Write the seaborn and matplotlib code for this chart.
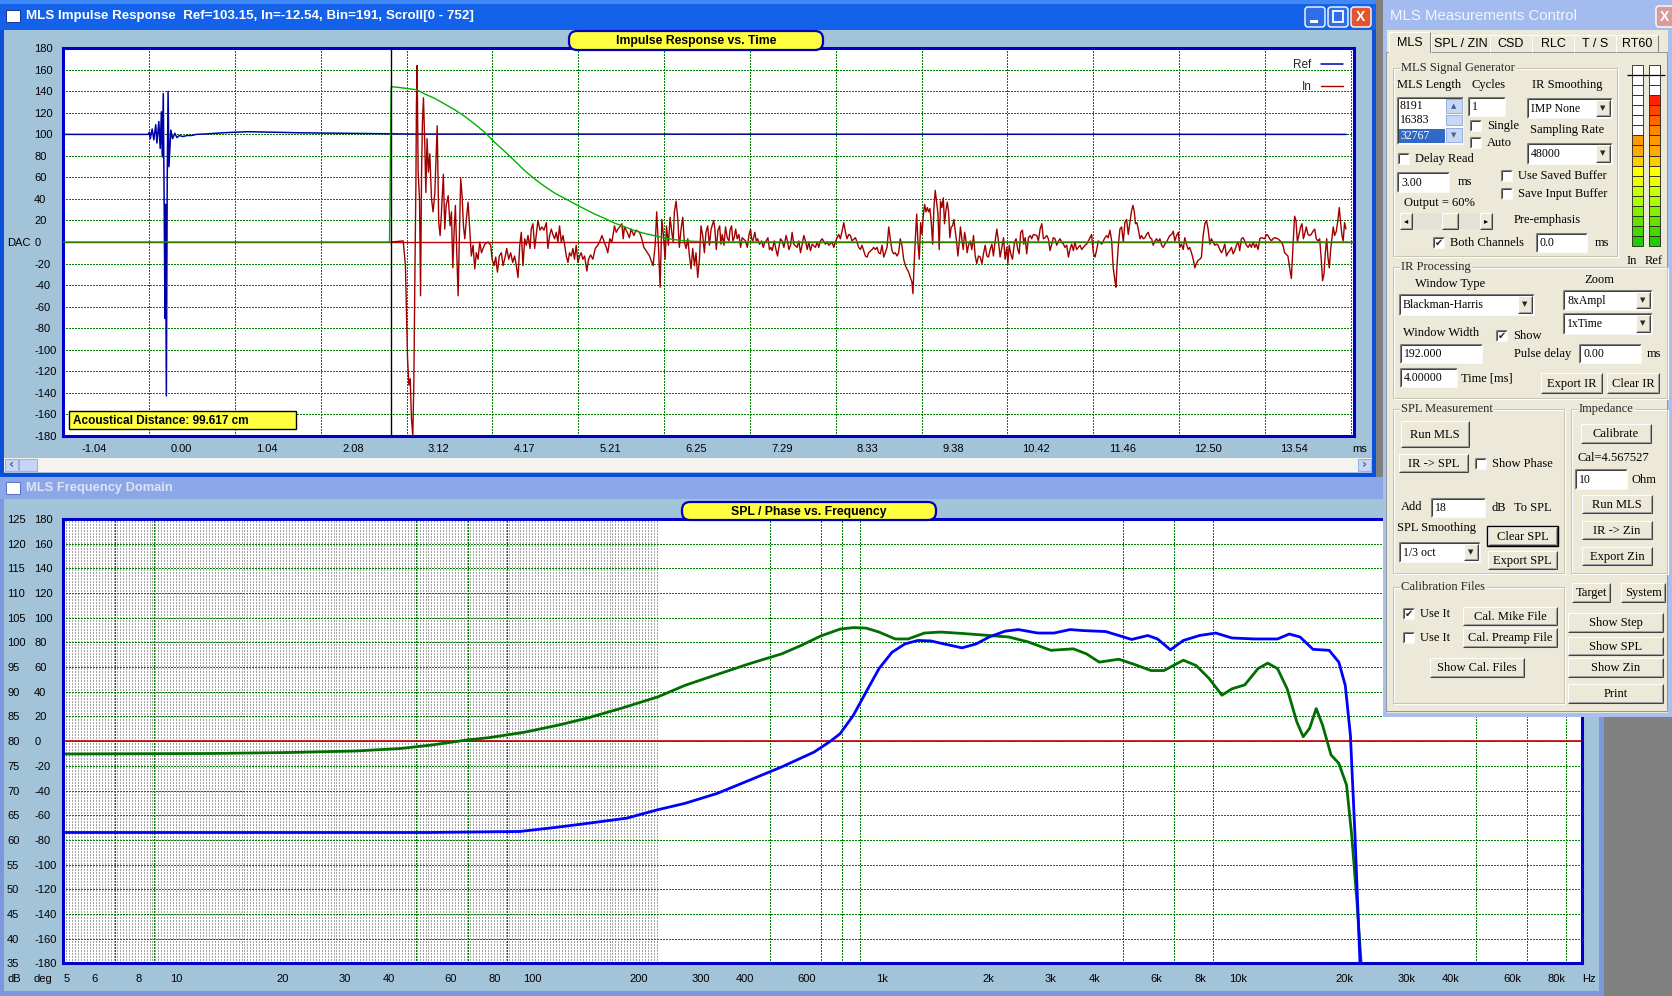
import numpy as np
import pandas as pd
import matplotlib
matplotlib.use("Agg")
import matplotlib.pyplot as plt
from matplotlib.patches import Rectangle, FancyBboxPatch
import seaborn as sns

# ---------------- impulse response: (sample index @ 48 kHz, DAC units) ----------------
SAMPLE_RATE_KHZ = 48.0
ZERO_SAMPLE = 75          # bin labelled 0.00 ms
CURSOR_SAMPLE = 191       # Bin=191, window start
SCROLL_END = 752

ref_trace = [(0, 100), (49.6, 100), (50.1, 102), (50.6, 96), (51.7, 105), (52.7, 95),
             (53.8, 109), (54.5, 92), (55.6, 112), (56.4, 87), (57.1, 121), (57.6, 79),
             (58.2, 138), (58.7, 40), (59.2, -71), (59.5, 35), (60.0, -143), (60.5, 60),
             (61.0, 140), (61.5, 70), (62.6, 104), (63.6, 96), (64.9, 101), (66.2, 97),
             (67.5, 99), (69.6, 98), (72.2, 99), (74.8, 99), (77.4, 100), (83.9, 100.5),
             (93.0, 101.5), (107.3, 102.5), (137.1, 101.5), (203.3, 100.3), (747.5, 100)]

window_trace = [(0, 0), (190.0, 0), (190.3, 37), (190.7, 109), (191.0, 144.3), (195.1, 143.7),
                (199.9, 142.7), (205.7, 141.5), (210.6, 137.5), (216.4, 133.4), (222.2, 128.2),
                (228.0, 122.9), (233.9, 116.7), (239.7, 109.6), (245.5, 101.9), (251.3, 92.6),
                (257.1, 84.2), (262.9, 75.5), (268.8, 66.3), (274.6, 58.5), (280.4, 51.7),
                (286.2, 45.5), (292.0, 40.6), (297.8, 35.6), (303.7, 30.7), (309.5, 26.0),
                (315.3, 22.0), (321.1, 17.6), (326.9, 14.2), (332.8, 10.5), (338.6, 8.0),
                (344.4, 5.9), (350.2, 3.7), (356.0, 2.2), (361.8, 1.2), (367.7, 0.6),
                (375.4, 0.3), (383.0, 0), (752, 0)]

in_onset = [(191.0, 0), (198.0, 1), (199.3, -22), (199.9, -65), (200.5, -107), (201.3, -133),
            (202.1, -127), (202.8, -164), (203.6, -180), (204.2, -130), (204.8, -31), (205.4, 55),
            (205.7, 127), (206.1, 164), (206.7, 65), (207.5, 40), (208.1, -50), (208.7, 65),
            (209.2, 111), (209.8, 134), (210.6, 89), (211.2, 46), (211.9, 96), (212.7, 65),
            (213.5, 82), (214.5, 40), (215.4, 28), (216.4, 45), (217.2, 82), (217.8, 108),
            (218.7, 18), (219.5, 6), (220.3, 28), (221.4, 63), (222.2, 12), (223.0, 34),
            (224.2, 43), (225.3, 15), (226.1, 28), (226.9, -24), (227.7, 12), (228.4, 34),
            (229.2, -10), (230.0, -50), (230.8, 11), (231.5, 59), (232.3, 43), (233.1, 15),
            (233.9, 3), (234.8, 21), (235.8, 37), (236.8, 11), (237.7, -13), (238.7, -3),
            (239.7, -25), (240.6, -10), (241.6, -16), (242.6, 0), (243.6, -10), (245.5, -2),
            (247.4, 0), (249.0, -3), (249.8, -16), (250.9, -22), (251.9, -14), (252.9, -28),
            (254.0, -13), (255.2, -10), (256.2, -22), (257.5, -13), (258.3, -6), (259.5, -16),
            (260.6, -10), (261.8, -19), (262.9, -13), (263.9, -22), (264.9, -33), (265.9, -3),
            (266.8, 9), (267.8, -22), (268.8, 3), (269.7, -3), (270.7, 6), (271.9, -6),
            (272.6, 12), (273.6, 17), (274.6, -6), (275.5, 6), (276.5, 20), (277.7, 11),
            (278.8, 14), (280.0, 11), (281.4, 18), (282.3, -6), (283.3, 6), (284.3, 12),
            (285.2, 7), (286.2, 3), (287.2, 9), (288.1, 0), (289.1, 15), (290.1, 0),
            (291.1, 6), (292.0, -2), (293.0, -13), (294.0, -19), (294.9, -10), (295.9, -13),
            (296.9, -6), (297.8, -16), (298.8, -3), (299.8, -19), (300.8, -13), (301.7, -10),
            (302.7, -16), (303.7, -13), (305.0, -27), (306.0, -16), (307.2, -12), (308.5, -16),
            (309.9, -6), (311.4, -3), (312.4, 0), (313.8, 6), (314.9, 1), (316.3, -5),
            (317.2, -10), (318.4, 3), (319.6, 0), (321.1, 15), (322.1, 9), (323.1, 12),
            (324.2, 14), (325.4, 17), (326.2, 3), (326.9, 14), (328.5, 9), (329.8, 4),
            (330.8, 12), (332.4, 6), (333.7, 11), (335.7, 9), (337.0, 3), (338.2, -5),
            (339.5, -8), (341.5, -13), (342.4, -17), (343.6, -22), (344.8, -3), (345.7, 28),
            (346.7, -3), (347.7, -42), (348.7, 21), (349.8, 3), (350.6, -16), (351.4, 15),
            (352.5, -3), (353.5, 23), (354.5, 9), (355.3, 0), (356.0, 28), (357.0, 38),
            (358.0, 21), (358.9, -5), (359.9, 12), (360.9, 23), (361.8, 0), (362.8, -6),
            (363.8, 3), (364.8, -13), (365.7, -25), (366.7, -6), (367.7, -22), (368.6, -10),
            (369.6, -33), (370.6, -16), (371.5, 15), (372.5, 6), (373.5, -10), (374.4, 9),
            (375.4, 15), (376.4, -3), (377.4, 12), (378.9, 20)]

in_middle = [(379.6, 12), (380.4, -7), (381.4, 11), (382.4, 15), (383.1, -2), (383.9, 7),
             (384.9, -3), (385.8, 14), (386.8, 4), (387.8, 1), (388.4, 11), (389.3, 15),
             (390.1, 1), (390.9, 4), (391.7, 12), (392.6, 3), (393.6, 7), (394.6, -5),
             (395.5, 4), (397.5, 1), (398.5, -5), (399.4, 6), (400.4, 12), (401.0, 3),
             (401.7, 1), (402.9, 9), (403.7, 1), (404.5, 3), (405.6, -2), (406.8, 1),
             (407.8, -5), (408.7, 0), (409.5, 1), (410.5, 4), (411.4, -7), (412.2, -5),
             (413.0, -8), (414.2, 1), (414.9, -5), (416.1, -13), (416.9, -5), (417.8, 3),
             (418.8, 1), (419.8, -5), (421.1, 6), (421.9, 1), (422.7, -7), (423.7, -3),
             (424.6, 9), (425.6, -2), (427.5, -5), (428.5, 1), (429.5, -10), (430.4, -3),
             (431.4, 6), (432.4, 1), (433.4, -7), (434.3, 0), (435.3, -8), (436.3, -2),
             (438.2, -5), (439.2, 0), (440.1, -5), (441.1, 1), (442.1, 3), (444.0, -2),
             (445.0, 0), (446.0, -3), (447.9, 0), (448.9, -5), (449.8, 0), (450.8, 4),
             (451.8, 7), (452.7, 3), (453.7, 10), (454.7, 18), (455.7, 9), (456.6, 3),
             (457.6, 7), (458.6, 6), (459.5, 1), (461.5, 4), (462.4, 0), (463.4, -5),
             (464.4, -7), (465.3, -3), (466.3, -8), (467.3, -13), (468.3, -14), (469.2, -10),
             (471.2, -7), (472.1, -5), (473.1, -7), (474.1, -5), (475.0, -10), (476.0, -11),
             (477.0, -3), (478.0, -14), (478.9, -10), (479.9, -5), (480.9, 14), (481.8, 3),
             (482.8, -8), (483.8, -11), (484.7, -10), (485.7, -13), (486.7, -10), (487.6, 3),
             (488.6, -3), (489.6, -16), (490.6, -22), (491.5, -25), (492.5, -28), (493.5, -33),
             (494.4, -37), (495.0, -48), (495.8, -17), (496.4, 3), (497.2, 26), (497.9, 0),
             (498.7, -16), (499.5, 18), (500.3, 7), (501.0, 24), (501.8, 35), (502.6, 28),
             (503.4, 32), (504.1, 28), (504.9, 31), (505.7, 18), (506.5, -2), (507.2, 31),
             (508.0, 48), (508.8, 37), (509.6, 26), (510.3, -7), (511.1, 38), (511.9, 32),
             (512.7, 41), (513.4, 17), (514.2, 29), (515.0, 37), (515.8, 28), (516.5, 4),
             (517.3, 14), (518.1, 15), (518.9, 21), (519.6, 11), (520.4, 1), (521.2, -13),
             (522.0, 0), (522.7, 14), (523.5, 3), (524.3, -7), (525.1, 9), (525.8, 3),
             (526.6, -10), (527.4, -3), (528.4, 1), (529.3, -7), (530.3, 6), (531.3, -13),
             (532.2, -20), (533.2, -13), (534.2, -14), (535.2, -20), (536.1, -11), (537.1, -3),
             (538.1, -13), (539.0, -14), (540.0, -7), (541.0, -2), (541.9, -13), (542.9, 1),
             (543.9, 12), (544.8, 1), (545.8, -14), (546.8, -5), (547.8, 4), (548.7, -16),
             (549.7, -5), (550.3, -20), (551.1, -3), (552.0, -11), (553.0, -16), (554.2, 0),
             (555.1, 3), (556.1, -7), (556.9, -11), (557.8, 9), (558.8, 11), (559.6, -2),
             (560.4, 4), (561.3, -11), (562.3, 4), (563.3, 6), (564.2, 3), (565.2, 7),
             (567.2, 6)]

in_late = [(568.1, 1), (569.1, 12), (570.1, 17), (571.0, 3), (572.0, 4), (573.0, 6),
           (573.9, 3), (574.9, -8), (575.9, -2), (576.8, 4), (577.8, 3), (578.8, -3),
           (579.8, 1), (580.7, 3), (581.7, 0), (582.7, -2), (583.6, -5), (584.6, -3),
           (585.6, -14), (586.5, -7), (587.5, -2), (588.5, -8), (589.4, 0), (590.4, -7),
           (591.4, -5), (592.4, -3), (593.3, -7), (594.3, -5), (595.3, -3), (596.2, -2),
           (597.2, 1), (598.2, 4), (599.1, 7), (600.1, -10), (601.1, -14), (602.1, -7),
           (603.0, 1), (604.0, 0), (605.0, -2), (605.9, 1), (606.9, 4), (607.9, 6),
           (608.8, 4), (609.8, 11), (610.8, 1), (611.7, -24), (612.7, -36), (613.3, -42),
           (613.9, -22), (614.7, -3), (615.6, 12), (616.6, 14), (617.6, 0), (618.5, 18),
           (619.5, 21), (620.5, 7), (621.4, 18), (622.4, 29), (623.2, 34), (624.0, 28),
           (624.7, 17), (625.5, 18), (626.3, 12), (627.3, 3), (628.2, 6), (629.2, 3),
           (630.2, 4), (631.1, 7), (632.1, 9), (633.1, 4), (634.1, 3), (635.0, -3),
           (636.0, 1), (637.0, 3), (637.9, 0), (638.9, 3), (639.9, -3), (640.8, -5),
           (641.8, -2), (642.8, 0), (643.7, 3), (644.7, 6), (645.7, 7), (646.7, 10),
           (647.6, 1), (648.6, 6), (649.6, 9), (650.5, -5), (651.5, -2), (652.5, -7),
           (653.4, 4), (654.4, -2), (655.4, -7), (656.3, -5), (657.3, -10), (658.3, -16),
           (659.3, -24), (660.2, -20), (661.2, -17), (662.2, -16), (663.1, -14), (664.1, 6),
           (665.1, 17), (666.0, 20), (667.0, 12), (668.0, -2), (668.9, 3), (670.9, -3),
           (671.9, -2), (672.8, -3), (673.8, -7), (674.8, -10), (675.7, -7), (676.7, -2),
           (677.7, -13), (678.6, -10), (679.6, -8), (680.6, -5), (681.6, -11), (682.5, -8),
           (683.5, -3), (684.5, 0), (685.4, -8), (686.4, 3), (687.4, 4), (688.3, 1),
           (689.3, -3), (690.3, -5), (691.3, -2), (692.2, -5), (693.2, 0), (694.2, -5),
           (695.1, -2), (696.1, -7), (697.1, 3), (698.0, 4), (700.0, 3), (701.0, 7),
           (701.9, 6), (702.9, 3), (703.9, 1), (704.8, 3), (705.8, 4), (707.7, 3),
           (709.7, 0), (710.6, -3), (711.6, -10), (713.5, -13), (714.5, -24), (715.5, -34),
           (716.5, -2), (717.4, 24), (718.2, 20), (719.0, 0), (719.8, 6), (720.9, 14),
           (721.7, 17), (722.5, 3), (723.2, 7), (724.2, 14), (725.2, 7), (726.2, 6),
           (727.1, 7), (728.1, 10), (729.1, 12), (730.0, 3), (731.0, 1), (732.0, 3),
           (732.9, -16), (733.7, -36), (734.5, -30), (735.3, -10), (736.1, 3), (736.8, -14),
           (737.6, -24), (738.4, -7), (739.1, 3), (739.9, 14), (740.7, 6), (741.7, 10),
           (742.6, 20), (743.4, 32), (744.2, 18), (745.0, 6), (745.7, 1), (746.5, 18),
           (747.3, 12)]

ir_tick_labels = ["-1.04", "0.00", "1.04", "2.08", "3.12", "4.17", "5.21", "6.25",
                  "7.29", "8.33", "9.38", "10.42", "11.46", "12.50", "13.54"]
ir_y_ticks = list(range(-180, 181, 20))

# ---------------- frequency domain (Hz, dB) ----------------
spl_freq = [5, 54, 98, 123, 147, 197, 241, 288, 355, 439, 542, 669, 744, 792, 863, 939,
            1021, 1111, 1209, 1316, 1432, 1558, 1754, 1925, 2094, 2329, 2534, 2875, 3196,
            3550, 3862, 4480, 4875, 5302, 5891, 6278, 6830, 7430, 8254, 9175, 10197, 11839,
            13727, 14816, 15906, 17302, 19223, 20478, 21357, 22085, 22751, 23540]
spl_db = [61.5, 61.5, 61.7, 62.5, 63.2, 64.4, 66.1, 67.4, 69.4, 72.1, 74.8, 77.8, 80.0,
          81.5, 85.2, 90.0, 94.7, 98.0, 99.7, 100.4, 100.3, 99.7, 98.9, 99.7, 101.1, 102.3,
          102.6, 101.9, 101.9, 102.6, 102.4, 102.2, 101.4, 100.6, 101.4, 100.7, 98.5, 100.4,
          101.4, 101.9, 100.9, 100.7, 100.7, 101.7, 101.1, 98.6, 98.4, 96.0, 91.3, 81.2,
          61.0, 34.0]

ref_spl_freq = [5, 13, 21.7, 33.5, 45, 55, 69, 80, 101, 127, 151, 191, 242, 288, 355, 439,
                542, 615, 698, 792, 863, 939, 1021, 1135, 1235, 1373, 1526, 1769, 2094, 2378,
                2700, 3130, 3625, 3945, 4295, 4875, 5418, 6018, 6545, 7430, 8081, 8786, 9553,
                10197, 11089, 12089, 12875, 13727, 14620, 15570, 16234, 16925, 17670, 18425,
                19464, 20478, 21536, 22267, 23040, 23740]
ref_spl_db = [77.4, 77.5, 77.7, 78.0, 78.5, 79.2, 80.2, 80.7, 81.8, 83.3, 84.6, 86.7, 89.0,
              91.3, 93.5, 95.7, 97.7, 99.4, 101.3, 102.7, 103.0, 102.9, 102.1, 100.7, 100.7,
              101.9, 102.1, 101.8, 101.4, 101.1, 100.1, 98.4, 98.7, 97.7, 96.0, 96.6, 95.5,
              94.3, 94.3, 96.4, 95.3, 92.7, 89.3, 90.6, 91.4, 94.7, 95.8, 94.7, 90.6, 83.9,
              80.9, 82.6, 86.6, 83.2, 77.2, 75.5, 71.1, 61.0, 47.6, 34.0]

freq_ticks = [5, 6, 8, 10, 20, 30, 40, 60, 80, 100, 200, 300, 400, 600, 1000, 2000, 3000,
              4000, 6000, 8000, 10000, 20000, 30000, 40000, 60000, 80000]
freq_tick_labels = ["5", "6", "8", "10", "20", "30", "40", "60", "80", "100", "200", "300",
                    "400", "600", "1k", "2k", "3k", "4k", "6k", "8k", "10k", "20k", "30k",
                    "40k", "60k", "80k"]
db_ticks = list(range(35, 126, 5))
deg_ticks = list(range(-180, 181, 20))

# ---------------- control panel state ----------------
meter_in_level = 11
meter_ref_level = 15
meter_colors = ["#22CC00", "#44D800", "#66E000", "#88EE00", "#AAFF00", "#CCFF00",
                "#EEFF00", "#FFFF00", "#FFCC00", "#FFAA00", "#FF9900", "#FF8800",
                "#FF6600", "#FF4400", "#FF2200", "#FF0000", "#FF0000", "#FF0000"]

# ---------------------------------------------------------------------------
sns.set_theme(style="white")
plt.rcParams["font.family"] = ["Liberation Sans", "DejaVu Sans"]
plt.rcParams["axes.unicode_minus"] = False

W, H = 1672, 996
FACE = "#ECE9D8"
CLIENT = "#A3C3D9"
SERIF = "Liberation Serif"
GRID = dict(color="#008000", linestyle=(0, (1.4, 1.4)), linewidth=0.8, antialiased=False)


def frac(x0, y0, x1, y1):
    return [x0 / W, 1 - y1 / H, (x1 - x0) / W, (y1 - y0) / H]


def to_ms(samples):
    return (np.asarray(samples, dtype=float) - ZERO_SAMPLE) / SAMPLE_RATE_KHZ


def rect(ax, x0, y0, x1, y1, fc, ec="none", lw=0.75, z=2):
    ax.add_patch(Rectangle((x0, y0), x1 - x0, y1 - y0, facecolor=fc, edgecolor=ec,
                           linewidth=lw, zorder=z))


def seg(ax, xs, ys, c, lw=0.75, z=4):
    ax.plot(xs, ys, color=c, lw=lw, zorder=z, solid_capstyle="butt")


def label(ax, x, y, s, size=9, ha="left", color="black", family=SERIF, weight="normal", z=7):
    ax.text(x, y, s, ha=ha, va="center", fontsize=size, color=color, family=family,
            weight=weight, zorder=z)


def raised(ax, x0, y0, x1, y1, z=4):
    rect(ax, x0, y0, x1, y1, FACE, z=z)
    seg(ax, [x0, x1], [y0, y0], "white", z=z + 0.1)
    seg(ax, [x0, x0], [y0, y1], "white", z=z + 0.1)
    seg(ax, [x0, x1], [y1, y1], "#404040", z=z + 0.1)
    seg(ax, [x1, x1], [y0, y1], "#404040", z=z + 0.1)
    seg(ax, [x0 + 1, x1 - 1], [y1 - 1, y1 - 1], "#A0A0A0", z=z + 0.1)
    seg(ax, [x1 - 1, x1 - 1], [y0 + 1, y1 - 1], "#A0A0A0", z=z + 0.1)


def button(ax, x0, y0, x1, y1, text, default=False):
    raised(ax, x0, y0, x1, y1)
    if default:
        rect(ax, x0 - 1, y0 - 1, x1 + 1, y1 + 1, "none", "black", lw=1.0, z=5)
    label(ax, (x0 + x1) / 2, (y0 + y1) / 2 + 0.5, text, ha="center")


def sunken(ax, x0, y0, x1, y1, fc="white", z=4):
    rect(ax, x0, y0, x1, y1, fc, z=z)
    seg(ax, [x0, x1], [y0, y0], "#808080", z=z + 0.1)
    seg(ax, [x0, x0], [y0, y1], "#808080", z=z + 0.1)
    seg(ax, [x0 + 1, x1 - 1], [y0 + 1, y0 + 1], "#404040", z=z + 0.1)
    seg(ax, [x0 + 1, x0 + 1], [y0 + 1, y1 - 1], "#404040", z=z + 0.1)
    seg(ax, [x0, x1], [y1, y1], "#F8F8F8", z=z + 0.1)
    seg(ax, [x1, x1], [y0, y1], "#F8F8F8", z=z + 0.1)


def edit(ax, x0, y0, x1, y1, text):
    sunken(ax, x0, y0, x1, y1)
    label(ax, x0 + 4, (y0 + y1) / 2 + 0.5, text, size=8.5)


def combo(ax, x0, y0, x1, y1, text):
    edit(ax, x0, y0, x1, y1, text)
    raised(ax, x1 - 16, y0 + 2, x1 - 2, y1 - 2, z=5)
    ax.text(x1 - 9, (y0 + y1) / 2, "\u25BC", fontsize=5, ha="center", va="center",
            family="DejaVu Sans", zorder=7)


def checkbox(ax, x, y, text, checked=False):
    sunken(ax, x, y, x + 11, y + 11)
    if checked:
        ax.text(x + 5.5, y + 6, "\u2714", fontsize=7, ha="center", va="center",
                family="DejaVu Sans", zorder=7)
    label(ax, x + 17, y + 5.5, text)


def group(ax, x0, y0, x1, y1, text):
    rect(ax, x0 + 1, y0 + 1, x1 + 1, y1 + 1, "none", "white", z=3)
    rect(ax, x0, y0, x1, y1, "none", "#C8C5B2", z=3.1)
    ax.text(x0 + 8, y0, text, ha="left", va="center", fontsize=9, family=SERIF, zorder=7,
            bbox=dict(boxstyle="square,pad=0.12", fc=FACE, ec="none"))


fig = plt.figure(figsize=(W / 100, H / 100), dpi=100, facecolor="#808080")

bg = fig.add_axes([0, 0, 1, 1], zorder=0)
bg.set_xlim(0, W)
bg.set_ylim(H, 0)
bg.axis("off")

ax_ir = fig.add_axes(frac(63.4, 48.3, 1354, 435.7), zorder=1)
ax_fr = fig.add_axes(frac(63.4, 519, 1582, 963.3), zorder=1)

fg = fig.add_axes([0, 0, 1, 1], zorder=3)
fg.set_xlim(0, W)
fg.set_ylim(H, 0)
fg.axis("off")

# ---- window chrome behind the plots ----
rect(bg, 0, 0, 1376, 477, "#0A4FD9", z=1)
rect(bg, 0, 0, 1376, 30, "#1462EA", z=1.1)
rect(bg, 0, 0, 1376, 4, "#3F88F6", z=1.2)
rect(bg, 4, 30, 1372, 473, CLIENT, z=1.3)
rect(bg, 6, 10, 20, 22, "white", "#1A3A9A", z=2)
label(bg, 26, 16, "MLS Impulse Response  Ref=103.15, In=-12.54, Bin=191, Scroll[0 - 752]",
      size=9.6, color="white", family="Liberation Sans", weight="bold")
for x0, fc in [(1305, "#2E6EEB"), (1328, "#2E6EEB"), (1351, "#E2552E")]:
    bg.add_patch(FancyBboxPatch((x0, 7), 20, 20, boxstyle="round,pad=0,rounding_size=3",
                                fc=fc, ec="white", lw=1.0, zorder=3))
rect(bg, 1310, 20, 1318, 23, "white", z=4)
rect(bg, 1333, 11, 1343, 22, "none", "white", lw=1.3, z=4)
label(bg, 1361, 17, "X", size=10, ha="center", color="white", family="Liberation Sans",
      weight="bold")
# horizontal scroll bar
rect(bg, 4, 458, 1372, 472, "#F4F3EE", z=2)
for x0, x1, glyph in [(5, 18, "\u2039"), (1358, 1371, "\u203A")]:
    rect(bg, x0, 459, x1, 471, "#C6D5F7", "#9AB0E0", z=3)
    label(bg, (x0 + x1) / 2, 464.5, glyph, size=9, ha="center", color="#4D6185",
          family="DejaVu Sans", weight="bold")
rect(bg, 19, 459, 37, 471, "#C6D5F7", "#9AB0E0", z=3)

rect(bg, 0, 477, 1604, 996, "#7C97DE", z=1)
rect(bg, 0, 477, 1604, 499, "#8CA7E7", z=1.1)
rect(bg, 4, 499, 1599, 991, CLIENT, z=1.3)
rect(bg, 6, 482, 20, 494, "white", "#5A78C8", z=2)
label(bg, 26, 488, "MLS Frequency Domain", size=9.3, color="#DCE5F8",
      family="Liberation Sans", weight="bold")

# ---- impulse response plot ----
ref_df = pd.DataFrame(ref_trace, columns=["sample", "dac"])
win_df = pd.DataFrame(window_trace, columns=["sample", "dac"])
in_df = pd.DataFrame(in_onset + in_middle + in_late, columns=["sample", "dac"])
for df in (ref_df, win_df, in_df):
    df["ms"] = to_ms(df["sample"])

ax_ir.set_facecolor("white")
ax_ir.axhline(0, color="#C00000", lw=1.0, zorder=1.5)
sns.lineplot(data=ref_df, x="ms", y="dac", ax=ax_ir, color="#0000A8", lw=1.1,
             estimator=None, sort=False, label="Ref", zorder=2)
sns.lineplot(data=in_df, x="ms", y="dac", ax=ax_ir, color="#A00000", lw=1.0,
             estimator=None, sort=False, label="In", zorder=3)
sns.lineplot(data=win_df, x="ms", y="dac", ax=ax_ir, color="#00B000", lw=1.0,
             estimator=None, sort=False, zorder=4)
ax_ir.axvline(to_ms(CURSOR_SAMPLE), color="black", lw=1.0, zorder=5)

ax_ir.set_xlim(to_ms(0), to_ms(SCROLL_END))
ax_ir.set_ylim(-180, 180)
ax_ir.set_xticks(to_ms(np.arange(25, SCROLL_END, 25)), minor=True)
ax_ir.set_xticks(to_ms(25 + 50 * np.arange(len(ir_tick_labels))), labels=ir_tick_labels)
ax_ir.set_yticks(ir_y_ticks)
ax_ir.set_axisbelow(True)
ax_ir.grid(which="minor", axis="x", **GRID)
ax_ir.grid(which="major", axis="y", **GRID)
ax_ir.tick_params(which="both", length=0, labelsize=8, colors="black")
ax_ir.tick_params(axis="y", pad=21)
ax_ir.tick_params(axis="x", pad=6)
plt.setp(ax_ir.get_yticklabels(), ha="left")
plt.setp(ax_ir.get_xticklabels(), ha="right")
ax_ir.set_xlabel("")
ax_ir.set_ylabel("")
for sp in ax_ir.spines.values():
    sp.set_color("#0000C8")
    sp.set_linewidth(2.2)
handles, labels = ax_ir.get_legend_handles_labels()
ax_ir.legend(handles, labels, loc="upper right", frameon=False, markerfirst=False,
             fontsize=8.5, handlelength=1.9, handletextpad=0.8, labelspacing=0.85,
             borderaxespad=0.5)

# ---- frequency domain plot ----
ax_fr.set_facecolor("white")
ax_fr.set_xscale("log")
ax_fr.set_xlim(5, 100000)
ax_fr.set_ylim(35, 125)
# fine stipple of bin lines in the low-frequency part (about every 3 px)
ax_fr.vlines(np.geomspace(5.1, 240, 200), 35, 125, colors="#A4A4A4",
             linestyles=[(0, (1.4, 1.4))], linewidth=0.72, antialiased=False, zorder=0.3)
grid_freqs = [m * 10 ** e for e in range(0, 5) for m in range(1, 10) if 5 < m * 10 ** e < 100000]
ax_fr.set_xticks(grid_freqs, minor=True)
ax_fr.set_xticks(freq_ticks, labels=freq_tick_labels)
ax_fr.set_yticks(db_ticks)
ax_fr.set_axisbelow(True)
ax_fr.grid(which="minor", axis="x", **GRID)
ax_fr.grid(which="major", axis="y", **GRID)
ax_fr.axhline(80, color="#C00000", lw=1.2, zorder=1.5)
sns.lineplot(x=ref_spl_freq, y=ref_spl_db, ax=ax_fr, color="#006E00", lw=2.0,
             estimator=None, sort=False, zorder=2)
sns.lineplot(x=spl_freq, y=spl_db, ax=ax_fr, color="#0000FF", lw=2.0,
             estimator=None, sort=False, zorder=3)
ax_fr.tick_params(which="both", length=0, labelsize=8, colors="black")
ax_fr.tick_params(axis="y", pad=40.6)
ax_fr.tick_params(axis="x", pad=8)
plt.setp(ax_fr.get_yticklabels(), ha="left")
plt.setp(ax_fr.get_xticklabels(), ha="left")
for sp in ax_fr.spines.values():
    sp.set_color("#0000C8")
    sp.set_linewidth(2.2)
deg_axis = ax_fr.secondary_yaxis("left", functions=(lambda db: (db - 80) * 4,
                                                    lambda deg: deg / 4 + 80))
deg_axis.set_yticks(deg_ticks)
deg_axis.tick_params(length=0, labelsize=8, pad=21, colors="black")
plt.setp(deg_axis.get_yticklabels(), ha="left")
deg_axis.spines["left"].set_visible(False)

# ---- axis unit captions and chart captions ----
label(fg, 7, 243, "DAC", size=8, family="Liberation Sans")
label(fg, 1360, 449, "ms", size=8, ha="center", family="Liberation Sans")
label(fg, 7, 979, "dB", size=8, family="Liberation Sans")
label(fg, 34, 979, "deg", size=8, family="Liberation Sans")
label(fg, 1589, 979, "Hz", size=8, ha="center", family="Liberation Sans")

for x0, y0, x1, y1, title in [(569, 31, 823, 50, "Impulse Response vs. Time"),
                              (682, 502, 936, 520, "SPL / Phase vs. Frequency")]:
    fg.add_patch(FancyBboxPatch((x0, y0), x1 - x0, y1 - y0,
                                boxstyle="round,pad=0,rounding_size=8",
                                fc="#FFFF40", ec="#0000C0", lw=1.6, zorder=5))
    label(fg, (x0 + x1) / 2, (y0 + y1) / 2 + 0.5, title, size=8.8, ha="center",
          family="Liberation Sans", weight="bold")

rect(fg, 69, 411, 296, 429, "#FFFF40", "black", lw=1.0, z=5)
label(fg, 73, 420.5, "Acoustical Distance: 99.617 cm", size=8.5, family="Liberation Sans",
      weight="bold")

# ---- MLS Measurements Control panel ----
ui = fg
rect(ui, 1383, 0, 1672, 717, "#A9BFEE", z=2)
rect(ui, 1383, 0, 1672, 30, "#A3BBEE", z=2.1)
rect(ui, 1387, 30, 1668, 713, FACE, z=2.2)
label(ui, 1390, 16, "MLS Measurements Control", size=10.8, color="#F2F5FD",
      family="Liberation Sans")
ui.add_patch(FancyBboxPatch((1656, 6), 22, 21, boxstyle="round,pad=0,rounding_size=3",
                            fc="#D89C9C", ec="white", lw=1.0, zorder=3))
label(ui, 1665, 16.5, "X", size=10, ha="center", color="white", family="Liberation Sans",
      weight="bold")

rect(ui, 1386, 52, 1667, 711, "none", "#919B9C", z=2.5)
tabs = [("MLS", 1389, 1430), ("SPL / ZIN", 1431, 1490), ("CSD", 1490, 1532),
        ("RLC", 1532, 1574), ("T / S", 1574, 1616), ("RT60", 1616, 1658)]
for i, (name, x0, x1) in enumerate(tabs):
    top = 32 if i == 0 else 35
    rect(ui, x0, top, x1, 53.5 if i == 0 else 52, FACE, z=3)
    seg(ui, [x0, x1], [top, top], "white", z=3.2)
    seg(ui, [x0, x0], [top, 52], "white", z=3.2)
    seg(ui, [x1, x1], [top, 52], "#808080", z=3.2)
    label(ui, (x0 + x1) / 2, 43 if i == 0 else 44, name, size=9, ha="center",
          family="Liberation Sans")

group(ui, 1393, 68, 1617, 256, "MLS Signal Generator")
group(ui, 1393, 267, 1667, 398, "IR Processing")
group(ui, 1393, 409, 1564, 573, "SPL Measurement")
group(ui, 1571, 409, 1667, 573, "Impedance")
group(ui, 1393, 587, 1564, 703, "Calibration Files")

for x, y, s in [(1397, 85, "MLS Length"), (1472, 85, "Cycles"), (1532, 85, "IR Smoothing"),
                (1530, 130, "Sampling Rate"), (1458, 182, "ms"), (1404, 203, "Output = 60%"),
                (1514, 220, "Pre-emphasis"), (1595, 243, "ms"), (1627, 261, "In"),
                (1645, 261, "Ref"), (1415, 284, "Window Type"), (1584, 280, "Zoom"),
                (1403, 333, "Window Width"), (1514, 354, "Pulse delay"), (1647, 354, "ms"),
                (1461, 378, "Time [ms]"), (1401, 507, "Add"), (1491, 508, "dB"),
                (1514, 508, "To SPL"), (1397, 528, "SPL Smoothing"),
                (1577, 458, "Cal=4.567527"), (1631, 480, "Ohm")]:
    label(ui, x, y, s)

# MLS length list box
sunken(ui, 1397, 97, 1463, 144)
for y, s in [(106, "8191"), (120, "16383")]:
    label(ui, 1400, y, s, size=8.5)
rect(ui, 1398.5, 128.5, 1445, 142.5, "#316AC5", z=5)
label(ui, 1400, 135.5, "32767", size=8.5, color="white")
for y0, y1, glyph in [(99, 113, "\u25B2"), (128, 142, "\u25BC")]:
    rect(ui, 1446, y0, 1462, y1, "#C8D7F5", "#9AB0E0", z=5)
    label(ui, 1454, (y0 + y1) / 2, glyph, size=5, ha="center", color="#4D6185",
          family="DejaVu Sans")
rect(ui, 1446, 115, 1462, 125, "#C8D7F5", "#9AB0E0", z=5)

for x0, y0, x1, y1, s in [(1468, 97, 1505, 116, "1"), (1397, 172, 1449, 192, "3.00"),
                          (1536, 233, 1587, 252, "0.0"), (1400, 344, 1482, 363, "192.000"),
                          (1579, 344, 1641, 363, "0.00"), (1400, 368, 1457, 387, "4.00000"),
                          (1431, 498, 1485, 517, "18"), (1575, 469, 1627, 489, "10")]:
    edit(ui, x0, y0, x1, y1, s)

for x0, y0, x1, y1, s in [(1527, 98, 1612, 118, "IMP None"), (1527, 143, 1612, 164, "48000"),
                          (1399, 294, 1534, 315, "Blackman-Harris"),
                          (1563, 290, 1652, 310, "8xAmpl"), (1563, 313, 1652, 334, "1xTime"),
                          (1399, 542, 1480, 562, "1/3 oct")]:
    combo(ui, x0, y0, x1, y1, s)

for x, y, s, on in [(1470, 120, "Single", False), (1470, 137, "Auto", False),
                    (1398, 153, "Delay Read", False), (1501, 170, "Use Saved Buffer", False),
                    (1501, 188, "Save Input Buffer", False), (1433, 237, "Both Channels", True),
                    (1496, 330, "Show", True), (1475, 458, "Show Phase", False),
                    (1403, 608, "Use It", True), (1403, 632, "Use It", False)]:
    checkbox(ui, x, y, s, on)

# output level slider
rect(ui, 1412, 213, 1480, 229, "#E4E2D6", z=4)
for x0, x1, glyph in [(1400, 1412, "\u25C2"), (1480, 1492, "\u25B8")]:
    raised(ui, x0, 213, x1, 229)
    label(ui, (x0 + x1) / 2, 221, glyph, size=6, ha="center", family="DejaVu Sans")
raised(ui, 1442, 213, 1458, 229)

for x0, y0, x1, y1, s in [(1541, 373, 1602, 393, "Export IR"), (1607, 373, 1659, 393, "Clear IR"),
                          (1401, 421, 1469, 447, "Run MLS"), (1399, 454, 1468, 472, "IR -> SPL"),
                          (1488, 551, 1557, 569, "Export SPL"), (1581, 424, 1651, 443, "Calibrate"),
                          (1582, 495, 1652, 513, "Run MLS"), (1582, 521, 1652, 539, "IR -> Zin"),
                          (1582, 547, 1652, 565, "Export Zin"),
                          (1463, 607, 1557, 625, "Cal. Mike File"),
                          (1463, 628, 1557, 647, "Cal. Preamp File"),
                          (1430, 658, 1524, 677, "Show Cal. Files"),
                          (1572, 583, 1610, 602, "Target"), (1621, 583, 1665, 602, "System"),
                          (1568, 613, 1663, 632, "Show Step"), (1568, 637, 1663, 655, "Show SPL"),
                          (1568, 658, 1663, 677, "Show Zin"), (1568, 684, 1663, 703, "Print")]:
    button(ui, x0, y0, x1, y1, s)
button(ui, 1488, 527, 1557, 545, "Clear SPL", default=True)

# level meters
seg_h = (246 - 65) / len(meter_colors)
for col_x, level in [(1632, meter_in_level), (1649, meter_ref_level)]:
    for i, colour in enumerate(meter_colors):
        y1 = 246 - i * seg_h
        rect(ui, col_x, y1 - seg_h, col_x + 11, y1, colour if i < level else "white",
             "#202020", lw=0.6, z=4)
seg(ui, [1627, 1665], [75, 75], "black", lw=0.9, z=5)

fig.savefig("out.png", dpi=100, facecolor=fig.get_facecolor())
